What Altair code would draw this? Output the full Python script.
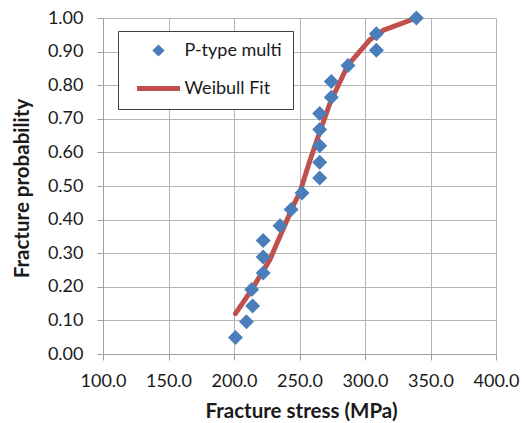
import altair as alt
import pandas as pd

# Measured fracture stress (MPa) and cumulative fracture probability
stress = [201.1, 209.5, 214.2, 213.5, 222.3, 222.3, 222.3, 235.1, 243.6, 251.9,
          265.4, 265.4, 265.4, 265.4, 265.4, 274.3, 274.3, 287.0, 308.7, 308.7, 339.2]
prob = [0.049, 0.096, 0.143, 0.192, 0.241, 0.289, 0.338, 0.382, 0.430, 0.479,
        0.524, 0.571, 0.620, 0.668, 0.716, 0.764, 0.811, 0.859, 0.904, 0.953, 1.000]

# Weibull fit curve
fit_stress = [201.1, 213.3, 227.3, 236.2, 245.0, 250.2, 257.9, 265.4, 273.6,
              287.0, 303.6, 313.7, 339.2]
fit_prob = [0.120, 0.190, 0.280, 0.360, 0.440, 0.480, 0.575, 0.660, 0.750,
            0.860, 0.935, 0.963, 1.000]

series_names = ["P-type multi", "Weibull Fit"]
series_colors = ["#4A7EBB", "#C0504D"]

x_ticks = [100, 150, 200, 250, 300, 350, 400]
y_ticks = [0.0, 0.1, 0.2, 0.3, 0.4, 0.5, 0.6, 0.7, 0.8, 0.9, 1.0]

pts = pd.DataFrame({"stress": stress, "prob": prob, "series": series_names[0]})
fit = pd.DataFrame({"stress": fit_stress, "prob": fit_prob,
                    "series": series_names[1], "order": range(len(fit_stress))})

FONT = "Lato"
TEXT = "#1a1a1a"
AXIS_GRAY = "#a0a0a0"

x_enc = alt.X(
    "stress:Q",
    scale=alt.Scale(domain=[100, 400], nice=False, zero=False),
    axis=alt.Axis(
        title="Fracture stress (MPa)", values=x_ticks, format=".1f",
        tickSize=6, labelPadding=12, labelOverlap=False, labelFlush=False,
        titleX=198, titleY=57, titleAlign="center", titleBaseline="middle",
    ),
)
y_enc = alt.Y(
    "prob:Q",
    scale=alt.Scale(domain=[0, 1], nice=False),
    axis=alt.Axis(
        title="Fracture probability", values=y_ticks, format=".2f",
        tickSize=6, labelPadding=14, labelOverlap=False, labelFlush=False,
        titleX=-81, titleY=170, titleAlign="center", titleBaseline="middle",
        titleAngle=-90,
    ),
)

# legend entries: a small diamond for the measured points, a thick stroke for the fit
is_fit = "datum.value === 'Weibull Fit'"
diamond_path = "M-0.12,0L0,-0.12L0.12,0L0,0.12Z"
color_enc = alt.Color(
    "series:N",
    scale=alt.Scale(domain=series_names, range=series_colors),
    legend=alt.Legend(
        title=None, orient="none", legendX=15, legendY=13,
        padding=11, strokeColor="#404040", fillColor="white",
        labelFont=FONT, labelFontSize=18, labelColor=TEXT,
        labelOffset=2, symbolOffset=5.5, rowPadding=19, clipHeight=17,
        symbolType={"expr": f"{is_fit} ? 'stroke' : '{diamond_path}'"},
        symbolSize=1849,
        symbolStrokeWidth=5,
        symbolOpacity=1,
    ),
)

line = alt.Chart(fit).mark_line(strokeWidth=5, strokeCap="round", strokeJoin="round").encode(
    x=x_enc, y=y_enc, color=color_enc, order="order:Q"
)
points = alt.Chart(pts).mark_point(shape="diamond", filled=True, size=225, opacity=1).encode(
    x=x_enc, y=y_enc, color=color_enc
)

chart = (
    alt.layer(line, points)
    .properties(
        width=393, height=336,
        autosize=alt.AutoSizeParams(type="none"),
        padding={"left": 103, "top": 18, "right": 26, "bottom": 69},
    )
    .configure_view(stroke=None)
    .configure_axis(
        labelFont=FONT, labelFontSize=18, labelColor=TEXT,
        titleFont=FONT, titleFontSize=20.5, titleFontWeight="bold", titleColor=TEXT,
        gridColor="#b4b4b4", gridWidth=1, domainColor=AXIS_GRAY, tickColor=AXIS_GRAY,
        domainWidth=1, tickWidth=1,
    )
)

chart.save("out.html", embed_options={"renderer": "svg", "actions": False})
